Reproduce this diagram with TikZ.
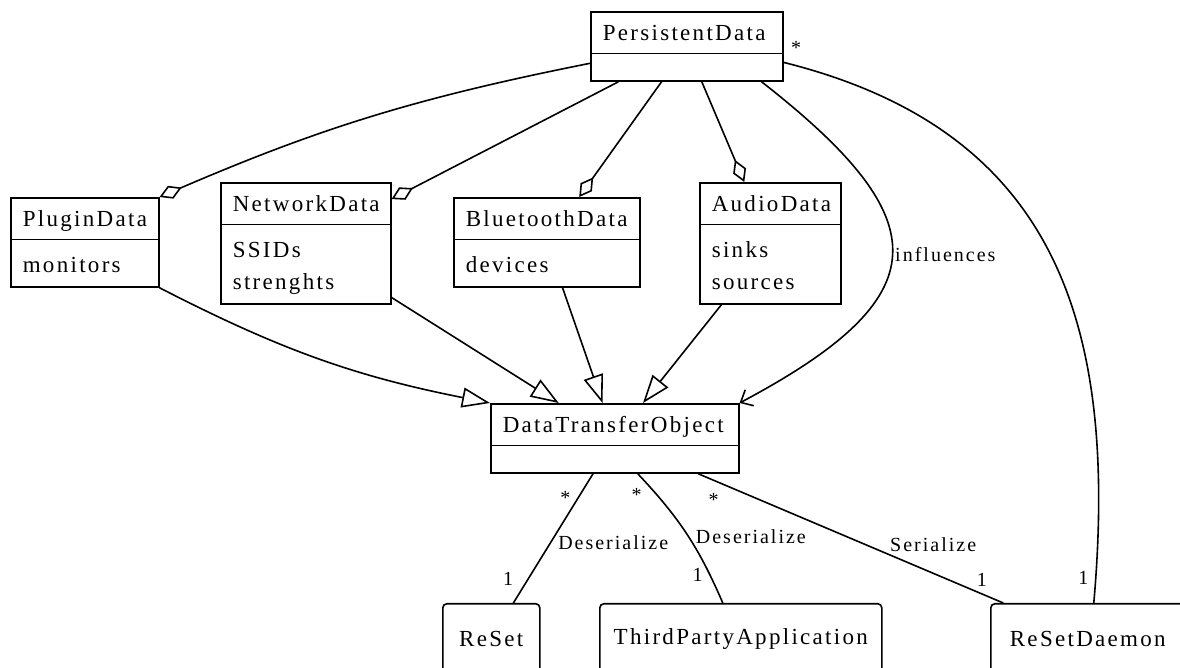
\documentclass[tikz,border=0pt]{standalone}
\usepackage{fontspec}
\setmainfont{Liberation Serif}[LetterSpace=10]
\usetikzlibrary{shapes.multipart,arrows.meta}
\newcommand{\umlfont}{\fontsize{11.5}{16}\selectfont}
\newcommand{\umltitle}[1]{\rule[-2.5pt]{0pt}{13pt}\mbox{#1}}
\newcommand{\umlattr}[1]{\rule[-3.5pt]{0pt}{16pt}\mbox{#1}}
\newcommand{\umlempty}{\rule{0pt}{6pt}}

\begin{document}
\begin{tikzpicture}[x=0.5pt,y=-0.5pt,line width=0.8pt,
  umlclass/.style={draw, rectangle split, rectangle split parts=2, anchor=north west,
    inner xsep=6pt, inner ysep=3.5pt, align=left, font=\umlfont},
  umlobj/.style={draw, rounded corners=2pt, anchor=north west, minimum height=35pt,
    inner xsep=6pt, font=\umlfont},
  lbl/.style={font=\fontsize{10}{12}\selectfont},
  aggr/.style={{Diamond[open,length=12pt,width=7pt]}-},
  inherit/.style={-{Triangle[open,length=14pt,width=10pt]}},
  dep/.style={-{Straight Barb[length=5pt,width=9pt]}}]
  \useasboundingbox (0,0) rectangle (1180,668);

  % classes
  \node[umlclass, text width=84pt] (persist) at (590,11) {\umltitle{PersistentData}\nodepart{second}\umlempty};
  \node[umlclass, text width=62pt] (plugin) at (10,197) {\umltitle{PluginData}\nodepart{second}\umlattr{monitors}};
  \node[umlclass, text width=73pt] (network) at (220,182) {\umltitle{NetworkData}\nodepart{second}\umlattr{SSIDs}\\\umlattr{strenghts}};
  \node[umlclass, text width=81pt] (bluetooth) at (453,197) {\umltitle{BluetoothData}\nodepart{second}\umlattr{devices}};
  \node[umlclass, text width=58.5pt] (audio) at (699,182) {\umltitle{AudioData}\nodepart{second}\umlattr{sinks}\\\umlattr{sources}};
  \node[umlclass, text width=112pt] (dto) at (490,403) {\umltitle{DataTransferObject}\nodepart{second}\umlempty};

  % users
  \node[umlobj, minimum width=48.5pt] (reset) at (442,603) {ReSet};
  \node[umlobj, minimum width=141pt] (thirdparty) at (599,603) {ThirdPartyApplication};
  \node[umlobj, minimum width=97pt] (daemon) at (990,603) {ReSetDaemon};

  % aggregation
  \draw[aggr] (plugin.north east) to[bend left=6] (persist);
  \draw[aggr] (network) -- (persist);
  \draw[aggr] (bluetooth) -- (persist);
  \draw[aggr] (audio) -- (persist);

  % inheritance
  \draw[inherit] (plugin.south east) to[bend right=8] (dto.north west);
  \draw[inherit] (network) -- (dto);
  \draw[inherit] (bluetooth) -- (dto);
  \draw[inherit] (audio) -- (dto);

  \draw[dep] ([xshift=-11pt]persist.south east) to[out=322,in=28,looseness=1.8]
    node[right,inner sep=1pt,lbl] {influences} (dto.north east);
  \draw ([yshift=-8pt]persist.east) to[out=346,in=85,looseness=1.15]
    node[pos=0,above right,lbl] {*} node[pos=0.97,left,lbl] {1} ([xshift=3pt]daemon.north);

  % associations
  \draw (dto) -- node[pos=0.19,left,lbl] {*} node[pos=0.53,right,lbl] {Deserialize}
    node[pos=0.81,left=4pt,lbl] {1} (reset);
  \draw ([xshift=11.5pt]dto.south) to[bend left=10] node[pos=0.17,left=4pt,lbl] {*}
    node[pos=0.52,right,lbl] {Deserialize} node[pos=0.82,left,lbl] {1} ([xshift=-9pt]thirdparty.north);
  \draw (dto) -- node[pos=0.05,below=3pt,lbl] {*} node[pos=0.77,above=7pt,lbl] {Serialize}
    node[pos=0.93,above,lbl] {1} (daemon);
\end{tikzpicture}
\end{document}
